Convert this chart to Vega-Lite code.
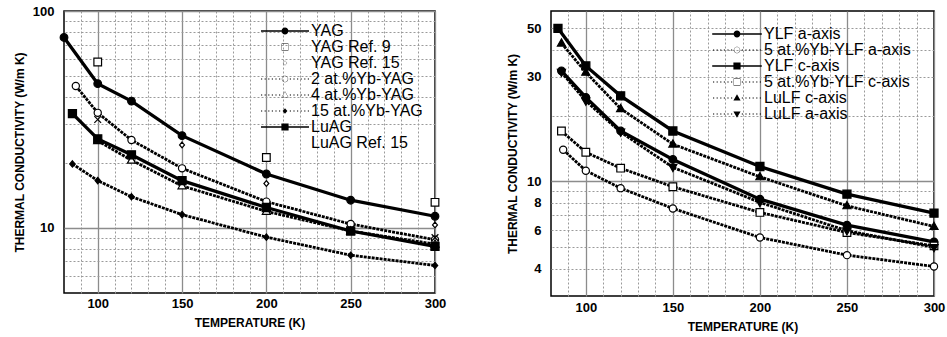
{
  "$schema": "https://vega.github.io/schema/vega-lite/v6.json",
  "padding": {"left": 12, "top": 4, "right": 4, "bottom": 2},
  "spacing": 58,
  "datasets": {
    "left": [
      {"series": "YAG", "T": 80, "k": 75.5}, {"series": "YAG", "T": 100, "k": 46.2}, {"series": "YAG", "T": 120, "k": 38.4}, {"series": "YAG", "T": 150, "k": 26.6}, {"series": "YAG", "T": 200, "k": 17.7}, {"series": "YAG", "T": 250, "k": 13.4}, {"series": "YAG", "T": 300, "k": 11.3},
      {"series": "YAG Ref. 9", "T": 100, "k": 58.2}, {"series": "YAG Ref. 9", "T": 200, "k": 21.1}, {"series": "YAG Ref. 9", "T": 300, "k": 13.1},
      {"series": "YAG Ref. 15", "T": 150, "k": 24.1}, {"series": "YAG Ref. 15", "T": 200, "k": 16.0}, {"series": "YAG Ref. 15", "T": 300, "k": 10.3},
      {"series": "2 at.%Yb-YAG", "T": 87, "k": 45.1}, {"series": "2 at.%Yb-YAG", "T": 100, "k": 33.9}, {"series": "2 at.%Yb-YAG", "T": 120, "k": 25.4}, {"series": "2 at.%Yb-YAG", "T": 150, "k": 18.8}, {"series": "2 at.%Yb-YAG", "T": 200, "k": 13.2}, {"series": "2 at.%Yb-YAG", "T": 250, "k": 10.4}, {"series": "2 at.%Yb-YAG", "T": 300, "k": 8.8},
      {"series": "4 at.%Yb-YAG", "T": 100, "k": 25.2}, {"series": "4 at.%Yb-YAG", "T": 120, "k": 20.5}, {"series": "4 at.%Yb-YAG", "T": 150, "k": 15.6}, {"series": "4 at.%Yb-YAG", "T": 200, "k": 11.9}, {"series": "4 at.%Yb-YAG", "T": 250, "k": 9.66}, {"series": "4 at.%Yb-YAG", "T": 300, "k": 8.4},
      {"series": "15 at.%Yb-YAG", "T": 85, "k": 19.7}, {"series": "15 at.%Yb-YAG", "T": 100, "k": 16.5}, {"series": "15 at.%Yb-YAG", "T": 120, "k": 13.9}, {"series": "15 at.%Yb-YAG", "T": 150, "k": 11.5}, {"series": "15 at.%Yb-YAG", "T": 200, "k": 9.05}, {"series": "15 at.%Yb-YAG", "T": 250, "k": 7.47}, {"series": "15 at.%Yb-YAG", "T": 300, "k": 6.7},
      {"series": "LuAG", "T": 85, "k": 33.6}, {"series": "LuAG", "T": 100, "k": 25.7}, {"series": "LuAG", "T": 120, "k": 21.7}, {"series": "LuAG", "T": 150, "k": 16.5}, {"series": "LuAG", "T": 200, "k": 12.4}, {"series": "LuAG", "T": 250, "k": 9.66}, {"series": "LuAG", "T": 300, "k": 8.2},
      {"series": "LuAG Ref. 15", "T": 100, "k": 31.6}, {"series": "LuAG Ref. 15", "T": 300, "k": 9.0}
    ],
    "right": [
      {"series": "YLF a-axis", "T": 86, "k": 32.0}, {"series": "YLF a-axis", "T": 100, "k": 24.2}, {"series": "YLF a-axis", "T": 120, "k": 17.0}, {"series": "YLF a-axis", "T": 150, "k": 12.6}, {"series": "YLF a-axis", "T": 200, "k": 8.3}, {"series": "YLF a-axis", "T": 250, "k": 6.32}, {"series": "YLF a-axis", "T": 300, "k": 5.3},
      {"series": "5 at.%Yb-YLF a-axis", "T": 87, "k": 13.95}, {"series": "5 at.%Yb-YLF a-axis", "T": 100, "k": 11.2}, {"series": "5 at.%Yb-YLF a-axis", "T": 120, "k": 9.32}, {"series": "5 at.%Yb-YLF a-axis", "T": 150, "k": 7.53}, {"series": "5 at.%Yb-YLF a-axis", "T": 200, "k": 5.55}, {"series": "5 at.%Yb-YLF a-axis", "T": 250, "k": 4.61}, {"series": "5 at.%Yb-YLF a-axis", "T": 300, "k": 4.09},
      {"series": "YLF c-axis", "T": 84, "k": 50.0}, {"series": "YLF c-axis", "T": 100, "k": 33.7}, {"series": "YLF c-axis", "T": 120, "k": 24.6}, {"series": "YLF c-axis", "T": 150, "k": 17.0}, {"series": "YLF c-axis", "T": 200, "k": 11.7}, {"series": "YLF c-axis", "T": 250, "k": 8.75}, {"series": "YLF c-axis", "T": 300, "k": 7.17},
      {"series": "5 at.%Yb-YLF c-axis", "T": 86, "k": 17.0}, {"series": "5 at.%Yb-YLF c-axis", "T": 100, "k": 13.6}, {"series": "5 at.%Yb-YLF c-axis", "T": 120, "k": 11.5}, {"series": "5 at.%Yb-YLF c-axis", "T": 150, "k": 9.46}, {"series": "5 at.%Yb-YLF c-axis", "T": 200, "k": 7.22}, {"series": "5 at.%Yb-YLF c-axis", "T": 250, "k": 5.85}, {"series": "5 at.%Yb-YLF c-axis", "T": 300, "k": 5.08},
      {"series": "LuLF c-axis", "T": 86, "k": 42.8}, {"series": "LuLF c-axis", "T": 100, "k": 31.5}, {"series": "LuLF c-axis", "T": 120, "k": 21.5}, {"series": "LuLF c-axis", "T": 150, "k": 14.8}, {"series": "LuLF c-axis", "T": 200, "k": 10.5}, {"series": "LuLF c-axis", "T": 250, "k": 7.74}, {"series": "LuLF c-axis", "T": 300, "k": 6.23},
      {"series": "LuLF a-axis", "T": 86, "k": 31.5}, {"series": "LuLF a-axis", "T": 100, "k": 23.3}, {"series": "LuLF a-axis", "T": 120, "k": 16.8}, {"series": "LuLF a-axis", "T": 150, "k": 11.6}, {"series": "LuLF a-axis", "T": 200, "k": 8.02}, {"series": "LuLF a-axis", "T": 250, "k": 5.96}, {"series": "LuLF a-axis", "T": 300, "k": 5.0}
    ]
  },
  "hconcat": [
    {
      "width": 371,
      "height": 282,
      "data": {"name": "left"},
      "layer": [
        {
          "transform": [{"filter": {"field": "series", "oneOf": ["YAG", "LuAG"]}}],
          "mark": {"type": "line", "color": "black", "strokeWidth": 3.3},
          "encoding": {
            "x": {"field": "T", "type": "quantitative", "scale": {"domain": [80, 300], "nice": false, "zero": false},
                  "axis": {"orient": "bottom", "values": [100, 150, 200, 250, 300], "title": "TEMPERATURE (K)", "grid": true, "gridColor": "#8c8c8c", "gridWidth": 1.3, "labelPadding": 4, "titlePadding": 7, "labelFlush": false, "labelOverlap": false}},
            "y": {"field": "k", "type": "quantitative", "scale": {"type": "log", "domain": [5, 100], "nice": false},
                  "axis": {"orient": "left", "values": [10, 100], "title": "THERMAL CONDUCTIVITY (W/m K)", "grid": true, "gridColor": "#8c8c8c", "gridWidth": 1.3, "labelPadding": 10, "titlePadding": 6, "labelOverlap": false}},
            "detail": {"field": "series"}
          }
        },
        {
          "transform": [{"filter": {"field": "series", "oneOf": ["2 at.%Yb-YAG", "4 at.%Yb-YAG", "15 at.%Yb-YAG"]}}],
          "mark": {"type": "line", "color": "black", "strokeWidth": 2.8, "strokeDash": [3, 1]},
          "encoding": {
            "x": {"field": "T", "type": "quantitative", "scale": {"domain": [80, 300], "nice": false, "zero": false},
                  "axis": {"orient": "top", "values": [90, 110, 120, 130, 140, 160, 170, 180, 190, 210, 220, 230, 240, 260, 270, 280, 290], "labels": false, "title": null, "grid": true, "gridColor": "#9a9a9a", "gridWidth": 1, "gridDash": [2, 2]}},
            "y": {"field": "k", "type": "quantitative", "scale": {"type": "log", "domain": [5, 100], "nice": false},
                  "axis": {"orient": "right", "values": [6, 7, 8, 9, 20, 30, 40, 50, 60, 70, 80, 90], "labels": false, "title": null, "grid": true, "gridColor": "#9a9a9a", "gridWidth": 1, "gridDash": [2, 2]}},
            "detail": {"field": "series"}
          }
        },
        {
          "mark": {"type": "point", "filled": true, "stroke": "black", "strokeWidth": 1.2, "size": 81, "opacity": 1},
          "encoding": {
            "x": {"field": "T", "type": "quantitative", "scale": {"domain": [80, 300], "nice": false, "zero": false}, "axis": null},
            "y": {"field": "k", "type": "quantitative", "scale": {"type": "log", "domain": [5, 100], "nice": false}, "axis": null},
            "shape": {"field": "series", "type": "nominal", "legend": null,
                      "scale": {"domain": ["YAG", "YAG Ref. 9", "YAG Ref. 15", "2 at.%Yb-YAG", "4 at.%Yb-YAG", "15 at.%Yb-YAG", "LuAG", "LuAG Ref. 15"],
                                "range": [
                                  "M0.85,0A0.85,0.85,0,1,1,-0.85,0A0.85,0.85,0,1,1,0.85,0Z",
                                  "M-0.85,-0.85H0.85V0.85H-0.85Z",
                                  "M0,-0.65L0.55,0L0,0.65L-0.55,0Z",
                                  "M0.8,0A0.8,0.8,0,1,1,-0.8,0A0.8,0.8,0,1,1,0.8,0Z",
                                  "M0,-0.95L0.9,0.65H-0.9Z",
                                  "M0,-0.7L0.6,0L0,0.7L-0.6,0Z",
                                  "M-0.9,-0.9H0.9V0.9H-0.9Z",
                                  "M-0.75,-0.75L0.75,0.75M-0.75,0.75L0.75,-0.75"
                                ]}},
            "fill": {"field": "series", "type": "nominal", "legend": null,
                     "scale": {"domain": ["YAG", "YAG Ref. 9", "YAG Ref. 15", "2 at.%Yb-YAG", "4 at.%Yb-YAG", "15 at.%Yb-YAG", "LuAG", "LuAG Ref. 15"],
                               "range": ["black", "white", "white", "white", "white", "black", "black", "white"]}}
          }
        },
        {
          "transform": [{"filter": "false"}],
          "mark": {"type": "point", "filled": true, "fill": "black", "stroke": "black", "strokeWidth": 1.2, "size": 64, "opacity": 1},
          "encoding": {
            "x": {"field": "T", "type": "quantitative", "scale": {"domain": [80, 300], "nice": false, "zero": false}, "axis": null},
            "y": {"field": "k", "type": "quantitative", "scale": {"type": "log", "domain": [5, 100], "nice": false}, "axis": null},
            "shape": {"field": "series", "type": "nominal",
                      "legend": {"orient": "none", "legendX": 213, "legendY": 12, "title": null, "labelFont": "Liberation Sans", "labelFontSize": 16, "labelColor": "black", "labelOffset": 18, "labelLimit": 300, "symbolSize": 64, "symbolStrokeWidth": 1.2, "symbolStrokeColor": "black", "symbolFillColor": "black"},
                      "scale": {"domain": ["YAG", "YAG Ref. 9", "YAG Ref. 15", "2 at.%Yb-YAG", "4 at.%Yb-YAG", "15 at.%Yb-YAG", "LuAG", "LuAG Ref. 15"],
                                "range": [
                                  "M-6,-0.2H6V0.2H-6ZM0.85,0A0.85,0.85,0,1,1,-0.85,0A0.85,0.85,0,1,1,0.85,0Z",
                                  "M-0.85,-0.85H0.85V0.85H-0.85ZM-0.77,-0.77V0.77H0.77V-0.77Z",
                                  "M0,-0.65L0.55,0L0,0.65L-0.55,0ZM0,-0.57L-0.47,0L0,0.57L0.47,0Z",
                                  "M-6,-0.15H-5.7V0.15H-6ZM-5.1,-0.15H-4.8V0.15H-5.1ZM-4.2,-0.15H-3.9V0.15H-4.2ZM-3.3,-0.15H-3V0.15H-3.3ZM-2.4,-0.15H-2.1V0.15H-2.4ZM-1.5,-0.15H-1.2V0.15H-1.5ZM1.2,-0.15H1.5V0.15H1.2ZM2.1,-0.15H2.4V0.15H2.1ZM3,-0.15H3.3V0.15H3ZM3.9,-0.15H4.2V0.15H3.9ZM4.8,-0.15H5.1V0.15H4.8ZM5.7,-0.15H6V0.15H5.7ZM0.8,0A0.8,0.8,0,1,1,-0.8,0A0.8,0.8,0,1,1,0.8,0ZM0.72,0A0.72,0.72,0,1,0,-0.72,0A0.72,0.72,0,1,0,0.72,0Z",
                                  "M-6,-0.15H-5.7V0.15H-6ZM-5.1,-0.15H-4.8V0.15H-5.1ZM-4.2,-0.15H-3.9V0.15H-4.2ZM-3.3,-0.15H-3V0.15H-3.3ZM-2.4,-0.15H-2.1V0.15H-2.4ZM-1.5,-0.15H-1.2V0.15H-1.5ZM1.2,-0.15H1.5V0.15H1.2ZM2.1,-0.15H2.4V0.15H2.1ZM3,-0.15H3.3V0.15H3ZM3.9,-0.15H4.2V0.15H3.9ZM4.8,-0.15H5.1V0.15H4.8ZM5.7,-0.15H6V0.15H5.7ZM0,-0.95L0.9,0.65H-0.9ZM0,-0.83L-0.78,0.57H0.78Z",
                                  "M-6,-0.15H-5.7V0.15H-6ZM-5.1,-0.15H-4.8V0.15H-5.1ZM-4.2,-0.15H-3.9V0.15H-4.2ZM-3.3,-0.15H-3V0.15H-3.3ZM-2.4,-0.15H-2.1V0.15H-2.4ZM-1.5,-0.15H-1.2V0.15H-1.5ZM1.2,-0.15H1.5V0.15H1.2ZM2.1,-0.15H2.4V0.15H2.1ZM3,-0.15H3.3V0.15H3ZM3.9,-0.15H4.2V0.15H3.9ZM4.8,-0.15H5.1V0.15H4.8ZM5.7,-0.15H6V0.15H5.7ZM0,-0.7L0.6,0L0,0.7L-0.6,0Z",
                                  "M-6,-0.2H6V0.2H-6ZM-0.9,-0.9H0.9V0.9H-0.9Z",
                                  "M-0.75,-0.75L0.75,0.75M-0.75,0.75L0.75,-0.75"
                                ]}}
          }
        }
      ],
      "resolve": {"scale": {"shape": "independent", "fill": "independent"}, "axis": {"x": "independent", "y": "independent"}}
    },
    {
      "width": 383,
      "height": 285,
      "data": {"name": "right"},
      "layer": [
        {
          "transform": [{"filter": {"field": "series", "oneOf": ["YLF a-axis", "YLF c-axis"]}}],
          "mark": {"type": "line", "color": "black", "strokeWidth": 3.3},
          "encoding": {
            "x": {"field": "T", "type": "quantitative", "scale": {"domain": [80, 300], "nice": false, "zero": false},
                  "axis": {"orient": "bottom", "values": [100, 150, 200, 250, 300], "title": "TEMPERATURE (K)", "grid": true, "gridColor": "#8c8c8c", "gridWidth": 1.3, "labelPadding": 5, "titlePadding": 7, "labelFlush": false, "labelOverlap": false}},
            "y": {"field": "k", "type": "quantitative", "scale": {"type": "log", "domain": [3, 60], "nice": false},
                  "axis": {"orient": "left", "values": [4, 6, 8, 10, 30, 50], "title": "THERMAL CONDUCTIVITY (W/m K)", "grid": true,
                           "gridColor": {"condition": {"test": "datum.value === 10", "value": "#8c8c8c"}, "value": "#9a9a9a"},
                           "gridDash": {"condition": {"test": "datum.value === 10", "value": []}, "value": [2, 2]},
                           "gridWidth": {"condition": {"test": "datum.value === 10", "value": 1.3}, "value": 1},
                           "labelPadding": 10, "titlePadding": 7, "labelOverlap": false}},
            "detail": {"field": "series"}
          }
        },
        {
          "transform": [{"filter": {"field": "series", "oneOf": ["5 at.%Yb-YLF a-axis", "5 at.%Yb-YLF c-axis", "LuLF c-axis", "LuLF a-axis"]}}],
          "mark": {"type": "line", "color": "black", "strokeWidth": 2.8, "strokeDash": [3, 1]},
          "encoding": {
            "x": {"field": "T", "type": "quantitative", "scale": {"domain": [80, 300], "nice": false, "zero": false},
                  "axis": {"orient": "top", "values": [90, 110, 120, 130, 140, 160, 170, 180, 190, 210, 220, 230, 240, 260, 270, 280, 290], "labels": false, "title": null, "grid": true, "gridColor": "#9a9a9a", "gridWidth": 1, "gridDash": [2, 2]}},
            "y": {"field": "k", "type": "quantitative", "scale": {"type": "log", "domain": [3, 60], "nice": false},
                  "axis": {"orient": "right", "values": [5, 7, 9, 20, 40], "labels": false, "title": null, "grid": true, "gridColor": "#9a9a9a", "gridWidth": 1, "gridDash": [2, 2]}},
            "detail": {"field": "series"}
          }
        },
        {
          "mark": {"type": "point", "filled": true, "stroke": "black", "strokeWidth": 1.2, "size": 81, "opacity": 1},
          "encoding": {
            "x": {"field": "T", "type": "quantitative", "scale": {"domain": [80, 300], "nice": false, "zero": false}, "axis": null},
            "y": {"field": "k", "type": "quantitative", "scale": {"type": "log", "domain": [3, 60], "nice": false}, "axis": null},
            "shape": {"field": "series", "type": "nominal", "legend": null,
                      "scale": {"domain": ["YLF a-axis", "5 at.%Yb-YLF a-axis", "YLF c-axis", "5 at.%Yb-YLF c-axis", "LuLF c-axis", "LuLF a-axis"],
                                "range": [
                                  "M0.85,0A0.85,0.85,0,1,1,-0.85,0A0.85,0.85,0,1,1,0.85,0Z",
                                  "M0.8,0A0.8,0.8,0,1,1,-0.8,0A0.8,0.8,0,1,1,0.8,0Z",
                                  "M-0.9,-0.9H0.9V0.9H-0.9Z",
                                  "M-0.85,-0.85H0.85V0.85H-0.85Z",
                                  "M0,-0.95L0.9,0.65H-0.9Z",
                                  "M0,0.95L0.9,-0.65H-0.9Z"
                                ]}},
            "fill": {"field": "series", "type": "nominal", "legend": null,
                     "scale": {"domain": ["YLF a-axis", "5 at.%Yb-YLF a-axis", "YLF c-axis", "5 at.%Yb-YLF c-axis", "LuLF c-axis", "LuLF a-axis"],
                               "range": ["black", "white", "black", "white", "black", "black"]}}
          }
        },
        {
          "transform": [{"filter": "false"}],
          "mark": {"type": "point", "filled": true, "fill": "black", "stroke": "black", "strokeWidth": 1.2, "size": 64, "opacity": 1},
          "encoding": {
            "x": {"field": "T", "type": "quantitative", "scale": {"domain": [80, 300], "nice": false, "zero": false}, "axis": null},
            "y": {"field": "k", "type": "quantitative", "scale": {"type": "log", "domain": [3, 60], "nice": false}, "axis": null},
            "shape": {"field": "series", "type": "nominal",
                      "legend": {"orient": "none", "legendX": 178, "legendY": 15, "title": null, "labelFont": "Liberation Sans", "labelFontSize": 16, "labelColor": "black", "labelOffset": 19, "labelLimit": 300, "symbolSize": 64, "symbolStrokeWidth": 1.2, "symbolStrokeColor": "black", "symbolFillColor": "black"},
                      "scale": {"domain": ["YLF a-axis", "5 at.%Yb-YLF a-axis", "YLF c-axis", "5 at.%Yb-YLF c-axis", "LuLF c-axis", "LuLF a-axis"],
                                "range": [
                                  "M-6.2,-0.2H6.2V0.2H-6.2ZM0.85,0A0.85,0.85,0,1,1,-0.85,0A0.85,0.85,0,1,1,0.85,0Z",
                                  "M-6,-0.15H-5.7V0.15H-6ZM-5.1,-0.15H-4.8V0.15H-5.1ZM-4.2,-0.15H-3.9V0.15H-4.2ZM-3.3,-0.15H-3V0.15H-3.3ZM-2.4,-0.15H-2.1V0.15H-2.4ZM-1.5,-0.15H-1.2V0.15H-1.5ZM1.2,-0.15H1.5V0.15H1.2ZM2.1,-0.15H2.4V0.15H2.1ZM3,-0.15H3.3V0.15H3ZM3.9,-0.15H4.2V0.15H3.9ZM4.8,-0.15H5.1V0.15H4.8ZM5.7,-0.15H6V0.15H5.7ZM0.8,0A0.8,0.8,0,1,1,-0.8,0A0.8,0.8,0,1,1,0.8,0ZM0.72,0A0.72,0.72,0,1,0,-0.72,0A0.72,0.72,0,1,0,0.72,0Z",
                                  "M-6.2,-0.2H6.2V0.2H-6.2ZM-0.9,-0.9H0.9V0.9H-0.9Z",
                                  "M-6,-0.15H-5.7V0.15H-6ZM-5.1,-0.15H-4.8V0.15H-5.1ZM-4.2,-0.15H-3.9V0.15H-4.2ZM-3.3,-0.15H-3V0.15H-3.3ZM-2.4,-0.15H-2.1V0.15H-2.4ZM-1.5,-0.15H-1.2V0.15H-1.5ZM1.2,-0.15H1.5V0.15H1.2ZM2.1,-0.15H2.4V0.15H2.1ZM3,-0.15H3.3V0.15H3ZM3.9,-0.15H4.2V0.15H3.9ZM4.8,-0.15H5.1V0.15H4.8ZM5.7,-0.15H6V0.15H5.7ZM-0.85,-0.85H0.85V0.85H-0.85ZM-0.77,-0.77V0.77H0.77V-0.77Z",
                                  "M-6,-0.15H-5.7V0.15H-6ZM-5.1,-0.15H-4.8V0.15H-5.1ZM-4.2,-0.15H-3.9V0.15H-4.2ZM-3.3,-0.15H-3V0.15H-3.3ZM-2.4,-0.15H-2.1V0.15H-2.4ZM-1.5,-0.15H-1.2V0.15H-1.5ZM1.2,-0.15H1.5V0.15H1.2ZM2.1,-0.15H2.4V0.15H2.1ZM3,-0.15H3.3V0.15H3ZM3.9,-0.15H4.2V0.15H3.9ZM4.8,-0.15H5.1V0.15H4.8ZM5.7,-0.15H6V0.15H5.7ZM0,-0.95L0.9,0.65H-0.9Z",
                                  "M-6,-0.15H-5.7V0.15H-6ZM-5.1,-0.15H-4.8V0.15H-5.1ZM-4.2,-0.15H-3.9V0.15H-4.2ZM-3.3,-0.15H-3V0.15H-3.3ZM-2.4,-0.15H-2.1V0.15H-2.4ZM-1.5,-0.15H-1.2V0.15H-1.5ZM1.2,-0.15H1.5V0.15H1.2ZM2.1,-0.15H2.4V0.15H2.1ZM3,-0.15H3.3V0.15H3ZM3.9,-0.15H4.2V0.15H3.9ZM4.8,-0.15H5.1V0.15H4.8ZM5.7,-0.15H6V0.15H5.7ZM0,0.95L0.9,-0.65H-0.9Z"
                                ]}}
          }
        }
      ],
      "resolve": {"scale": {"shape": "independent", "fill": "independent"}, "axis": {"x": "independent", "y": "independent"}}
    }
  ],
  "config": {
    "view": {"stroke": "black", "strokeWidth": 1.5},
    "font": "Liberation Sans",
    "legend": {"rowPadding": -3},
    "axis": {"labelFont": "Liberation Sans", "labelFontWeight": "bold", "labelFontSize": 13, "labelColor": "black", "titleFont": "Liberation Sans", "titleFontWeight": "bold", "titleFontSize": 12, "titleColor": "black", "ticks": false, "domain": false}
  }
}
